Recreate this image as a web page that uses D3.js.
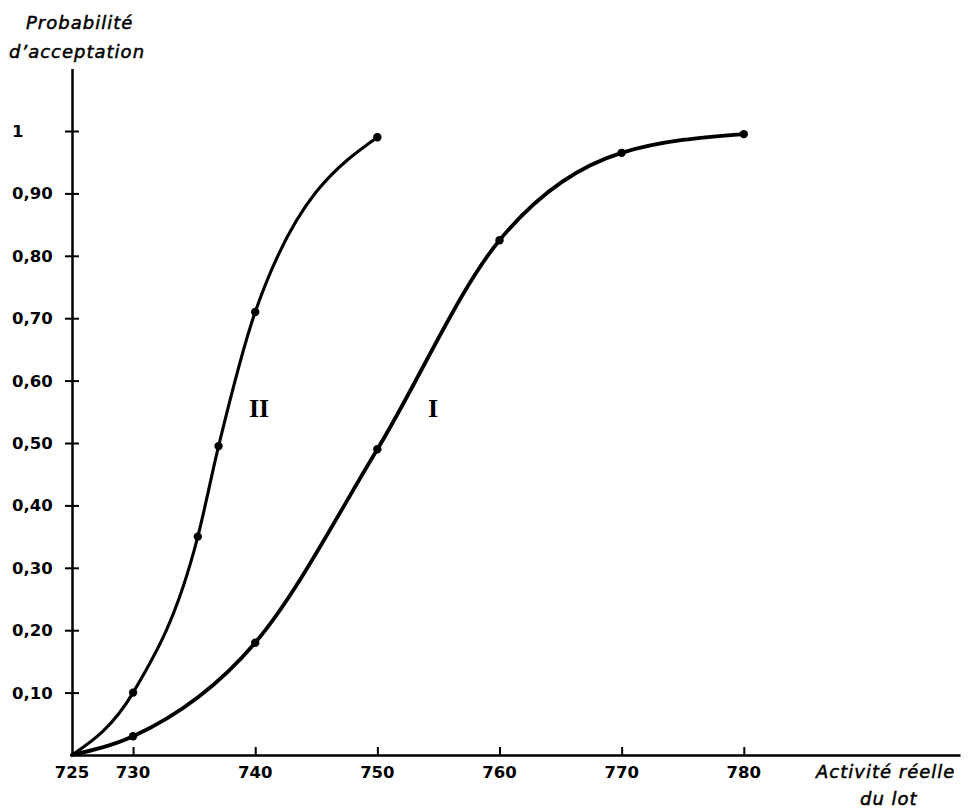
<!DOCTYPE html>
<meta charset="utf-8">
<style>
  body { margin: 0; background: #fff; }
  .lbl { font-family: "DejaVu Sans", sans-serif; font-style: oblique; font-size: 18px; fill: #000; stroke: #000; stroke-width: 0.5px; letter-spacing: 1px; }
  .tick-lbl { font-family: "DejaVu Sans", sans-serif; font-weight: bold; font-size: 16.5px; fill: #000; }
  .roman { font-family: "Liberation Serif", serif; font-weight: bold; font-size: 26px; fill: #000; }
</style>
<body>
<script src="https://d3js.org/d3.v7.min.js"></script>
<script>

// curve I
var xI = [725, 730, 740, 750, 760, 770, 780];
var yI = [0, 0.03, 0.18, 0.49, 0.825, 0.965, 0.995];
// curve II
var xII = [725, 730, 735.3, 737, 740, 750];
var yII = [0, 0.10, 0.35, 0.495, 0.71, 0.99];

var xTicks = [730, 740, 750, 760, 770, 780];
var yTicks = [0.1, 0.2, 0.3, 0.4, 0.5, 0.6, 0.7, 0.8, 0.9, 1];
var yTickLabels = ["0,10", "0,20", "0,30", "0,40", "0,50", "0,60", "0,70", "0,80", "0,90", "1"];

var width = 968, height = 812;

var svg = d3.select("body")
  .append("svg")
    .attr("width", width)
    .attr("height", height);

var x = d3.scaleLinear()
  .domain([725, 797.7])
  .range([72, 960]);

var y = d3.scaleLinear()
  .domain([0, 1.1])
  .range([755, 68.6]);

// X axis
var xAxis = svg.append("g")
  .attr("transform", "translate(0," + y(0) + ")")
  .call(d3.axisBottom(x).tickValues(xTicks).tickSize(0).tickFormat(""));
xAxis.select(".domain").attr("stroke", "#000").attr("stroke-width", 2.5);
xAxis.selectAll(".tick line").attr("y1", -8).attr("y2", 0).attr("stroke", "#000").attr("stroke-width", 2);

// Y axis
var yAxis = svg.append("g")
  .attr("transform", "translate(" + x(725) + ",0)")
  .call(d3.axisLeft(y).tickValues(yTicks).tickSize(0).tickFormat(""));
yAxis.select(".domain").attr("stroke", "#000").attr("stroke-width", 2.5);
yAxis.selectAll(".tick line").attr("x1", -7).attr("x2", 7).attr("stroke", "#000").attr("stroke-width", 2);

// tick labels
svg.selectAll(".ylab")
  .data(yTicks)
  .enter()
  .append("text")
    .attr("class", "tick-lbl")
    .attr("x", 12)
    .attr("y", function(d) { return y(d) + 6; })
    .text(function(d, i) { return yTickLabels[i]; });

svg.selectAll(".xlab")
  .data([725].concat(xTicks))
  .enter()
  .append("text")
    .attr("class", "tick-lbl")
    .attr("text-anchor", "middle")
    .attr("x", function(d) { return x(d); })
    .attr("y", 778)
    .text(function(d) { return d; });

// axis titles
svg.append("text").attr("class", "lbl").attr("x", 26).attr("y", 29).text("Probabilité");
svg.append("text").attr("class", "lbl").attr("x", 9).attr("y", 58).text("d’acceptation");
svg.append("text").attr("class", "lbl").attr("x", 816).attr("y", 778).text("Activité réelle");
svg.append("text").attr("class", "lbl").attr("x", 860).attr("y", 805).text("du lot");

// curves
var line = d3.line()
  .x(function(d) { return x(d[0]); })
  .y(function(d) { return y(d[1]); })
  .curve(d3.curveMonotoneX);

var series = [
  { name: "I", pts: d3.zip(xI, yI), w: 3.8 },
  { name: "II", pts: d3.zip(xII, yII), w: 3.1 }
];

svg.selectAll(".curve")
  .data(series)
  .enter()
  .append("path")
    .attr("d", function(d) { return line(d.pts); })
    .attr("fill", "none")
    .attr("stroke", "#000")
    .attr("stroke-width", function(d) { return d.w; })
    .attr("stroke-linecap", "round");

svg.selectAll(".dots")
  .data(series)
  .enter()
  .append("g")
  .selectAll("circle")
  .data(function(d) { return d.pts.slice(1); })
  .enter()
  .append("circle")
    .attr("cx", function(d) { return x(d[0]); })
    .attr("cy", function(d) { return y(d[1]); })
    .attr("r", 4.2)
    .attr("fill", "#000");

// curve names
svg.append("text").attr("class", "roman").attr("x", 249).attr("y", 417).text("II");
svg.append("text").attr("class", "roman").attr("x", 428).attr("y", 417).text("I");

</script>
</body>
